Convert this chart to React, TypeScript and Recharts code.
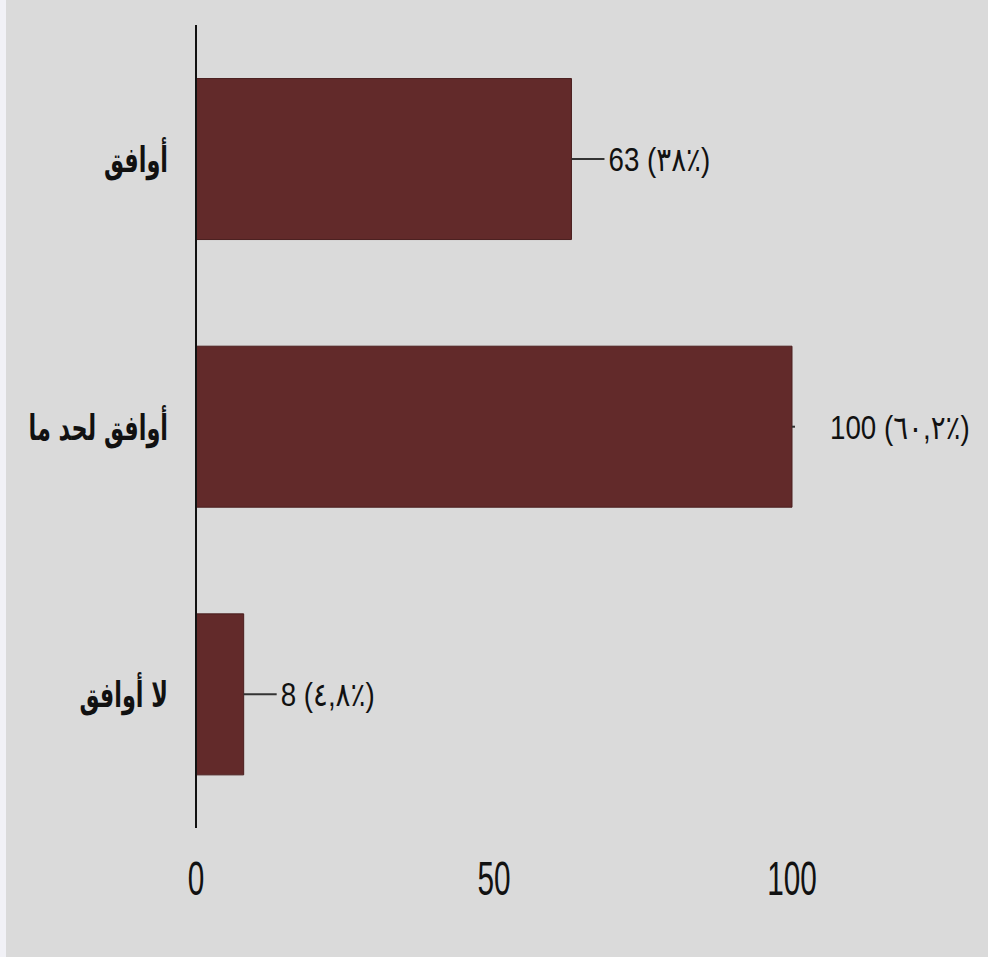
import React from "react";
import { BarChart, Bar, XAxis, YAxis, LabelList } from "recharts";

const categories = ["أوافق", "أوافق لحد ما", "لا أوافق"];
const counts = [63, 100, 8];
const shares = ["٣٨٪", "٦٠,٢٪", "٤,٨٪"];
const xTicks = [0, 50, 100];

const data = categories.map((name, i) => ({
  name,
  value: counts[i],
  label: `${counts[i]} (${shares[i]})`,
}));

const maxValue = Math.max(...counts);
const BAR_COLOR = "#622a2a";
const NUM_FONT = "'Liberation Sans', 'DejaVu Sans', sans-serif";

const CategoryTick = (props: any) => {
  const { x, y, payload } = props;
  return (
    <g transform={`translate(${x - 28},${y + 3}) scale(0.64,1)`}>
      <text
        x={0}
        y={0}
        textAnchor="end"
        dominantBaseline="middle"
        fontFamily="'DejaVu Sans', sans-serif"
        fontWeight="bold"
        fontSize={35}
        fill="#111"
      >
        {payload.value}
      </text>
    </g>
  );
};

const ValueTick = (props: any) => {
  const { x, y, payload } = props;
  return (
    <g transform={`translate(${x},${y + 67}) scale(0.62,1)`}>
      <text x={0} y={0} textAnchor="middle" fontFamily={NUM_FONT} fontSize={48} fill="#111">
        {payload.value}
      </text>
    </g>
  );
};

const ValueLabel = (props: any) => {
  const { x, y, width, height, index } = props;
  const row = data[index];
  const end = x + width;
  const cy = y + height / 2;
  const leader = row.value < maxValue;
  return (
    <g>
      <line
        x1={end}
        x2={leader ? end + 33 : end + 3}
        y1={cy}
        y2={cy}
        stroke="#333"
        strokeWidth={2}
      />
      <g transform={`translate(${end + (leader ? 37 : 38)},${cy + 12}) scale(0.84,1)`}>
        <text x={0} y={0} fontFamily={NUM_FONT} fontSize={33} fill="#111" direction="ltr">
          {row.label}
        </text>
      </g>
    </g>
  );
};

export default function App() {
  return (
    <div
      style={{
        position: "absolute",
        left: 0,
        top: 0,
        width: 988,
        height: 957,
        background: "#dadada",
        overflow: "hidden",
      }}
    >
      <div style={{ position: "absolute", left: 0, top: 0, width: 6, height: 957, background: "#f1f1f6" }} />
      <div style={{ position: "absolute", left: 0, top: 0 }}>
        <BarChart
          width={988}
          height={957}
          data={data}
          layout="vertical"
          margin={{ top: 25, right: 196, bottom: 0, left: 0 }}
          barCategoryGap="20%"
          style={{ overflow: "visible" }}
        >
          <XAxis
            type="number"
            domain={[0, 100]}
            ticks={xTicks}
            axisLine={false}
            tickLine={false}
            tickSize={0}
            tickMargin={0}
            height={129}
            tick={<ValueTick />}
            interval={0}
          />
          <YAxis
            type="category"
            dataKey="name"
            width={196}
            axisLine={{ stroke: "#111", strokeWidth: 2 }}
            tickLine={false}
            tickSize={0}
            tickMargin={0}
            tick={<CategoryTick />}
            interval={0}
          />
          <Bar dataKey="value" fill={BAR_COLOR} stroke="#4a1e1e" strokeWidth={1} isAnimationActive={false}>
            <LabelList dataKey="label" content={<ValueLabel />} />
          </Bar>
        </BarChart>
      </div>
    </div>
  );
}
